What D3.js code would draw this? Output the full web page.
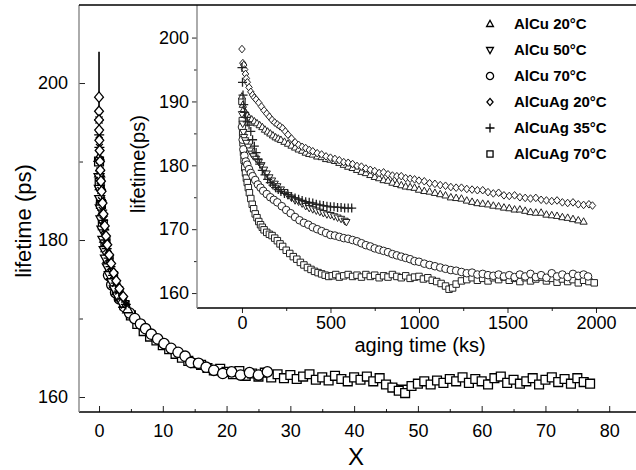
<!DOCTYPE html>
<html><head><meta charset="utf-8">
<script src="https://cdn.jsdelivr.net/npm/d3@7"></script>
<style>html,body{margin:0;padding:0;background:#fff;}svg{display:block;font-family:"Liberation Sans",Arial,sans-serif;}</style>
</head><body>
<script>
// ---------- DATA ----------
// Main plot (scaled variable X vs lifetime in ps)
const mainXTicks = [0,10,20,30,40,50,60,70,80];
const mainYTicks = [160,180,200];
const mainAlCu20 = [[0,190.5],[0.1,188.5],[0.2,186.9],[0.35,185.2],[0.5,183.5],[0.7,181.8],[0.9,180.2],[1.1,179],[1.4,177.6],[1.7,176.4],[2,175.4],[2.4,174.4],[2.8,173.5],[3.3,172.7],[3.9,171.9],[4.5,171.2]];
const mainAlCu50 = [[0,188],[0.05,186.5],[0.1,185.2],[0.2,184],[0.3,182.6],[0.45,181.3],[0.6,180],[0.8,178.7],[1,177.6],[1.3,176.5],[1.6,175.5],[2,174.6],[2.4,173.7],[2.9,172.8],[3.5,172]];
const mainAlCu70 = [[1.5,175.5],[2,174.3],[2.6,173.3],[3.2,172.5],[4,171.5],[4.8,170.7],[5.6,170],[6.5,169.3],[7.3,168.7],[8.2,168],[9.2,167.4],[10.2,166.8],[11.3,166.2],[12.4,165.7],[13.5,165.2],[14.4,164.4],[15.6,164.3],[16.8,163.8],[18,163.4],[19.4,163],[20.8,163.2],[22.2,162.8],[23.6,163.1],[25,162.8],[26.4,163.2]];
const mainAgCu20 = [[0,198.2],[0,196.4],[0,195.3],[0.02,194],[0.05,192.7],[0.1,191.4],[0.15,190],[0.2,188.9],[0.3,187.5],[0.4,186.2],[0.55,184.7],[0.7,183.3],[0.9,181.8],[1.1,180.5],[1.3,179.4],[1.6,178.1],[1.9,177],[2.3,175.8],[2.7,174.8],[3.2,173.8],[3.8,172.8]];
const mainAgCu35 = [[0,195.3],[0.03,193.4],[0.06,191.8],[0.1,190.2],[0.15,188.8],[0.2,187.6],[0.3,186.3],[0.4,185],[0.5,183.8],[0.65,182.5],[0.8,181.3],[1,180],[1.2,178.9],[1.5,177.7],[1.8,176.6],[2.2,175.5],[2.6,174.5],[3.1,173.5],[3.6,172.6],[4.2,171.8]];
const mainAgCu70 = [[0,190],[0.1,187.3],[0.3,184.6],[0.6,182],[1,179.8],[1.5,177.6],[2.2,175.4],[3,173.5],[4,171.7],[5,170.4],[6,169.3],[7,168.4],[8,167.7],[9,167.2],[10,166.6],[11,166.1],[12,165.5],[13,165],[14,164.6],[15,164.3],[16,164.1],[17,163.7],[18,163.4],[19,163.6],[20,163.2],[21,162.9],[22,163.3],[23,162.7],[24,163],[25,162.6],[26,163.1],[27,162.5],[28,162.9],[29,162.4],[30,162.8],[31,162.3],[32,162.6],[33,162.9],[34,162.2],[35,162.5],[36,162.1],[37,162.7],[38,162.3],[39,162],[40,162.5],[41,162.2],[42,162.6],[43,162],[44,162.4],[45,161.6],[46,161.2],[47,160.8],[48,160.5],[49,161.4],[50,161.7],[51,162],[52,161.6],[53,162.1],[54,161.8],[55,162.3],[56,162],[57,162.5],[58,161.8],[59,162.3],[60,162],[61,161.6],[62,162.4],[63,162.6],[64,161.8],[65,162.2],[66,161.7],[67,162],[68,162.4],[69,161.6],[70,162.2],[71,162.5],[72,161.9],[73,162.3],[74,161.7],[75,162.4],[76,161.9],[77,161.7]];
const mainFit = [[0,204],[0,196],[0.05,192],[0.15,188.5],[0.3,185.5],[0.5,183],[0.8,180.6],[1.2,178.4],[1.7,176.4],[2.3,174.7],[3,173.2],[4,171.6],[5,170.3],[6.5,168.9],[8,167.8],[10,166.5],[12,165.5],[14,164.7],[16,164.1],[18,163.7],[20,163.4],[24,163],[28,162.8],[32,162.6],[36,162.4],[40,162.3],[43,162.2],[45,161.9],[47,161.5],[48.5,161.5],[50,161.8],[53,162.1],[56,162.2],[60,162.2],[65,162.1],[70,162.1],[75,162],[77,162]];

// Inset (aging time in ks vs lifetime in ps)
const insetXTicks = [0,500,1000,1500,2000];
const insetYTicks = [160,170,180,190,200];
const legendLabels = ["AlCu 20°C","AlCu 50°C","AlCu 70°C","AlCuAg 20°C","AlCuAg 35°C","AlCuAg 70°C"];
const insAlCu20 = [[0,190.8],[5,189.5],[10,188.8],[20,188.2],[30,187.8],[40,187.5],[55,187.2],[70,186.9],[85,186.6],[100,186.3],[115,186],[130,185.6],[145,185.3],[160,185],[175,184.7],[190,184.4],[205,184.2],[220,184],[240,183.7],[260,183.4],[280,183.1],[300,182.8],[320,182.5],[340,182.3],[360,182],[380,181.8],[400,181.7],[425,181.4],[450,181.3],[475,181],[500,180.9],[525,180.7],[550,180.4],[575,180.1],[600,179.8],[625,179.6],[650,179.3],[675,179],[700,178.8],[725,178.5],[750,178.2],[775,178],[800,177.7],[825,177.6],[850,177.3],[875,177.1],[900,176.9],[925,176.7],[950,176.6],[975,176.5],[1000,176.2],[1030,176],[1060,175.9],[1090,175.7],[1120,175.5],[1150,175.3],[1180,175],[1210,174.9],[1240,174.8],[1270,174.5],[1300,174.3],[1330,174.1],[1360,174],[1390,173.9],[1420,173.7],[1450,173.6],[1480,173.4],[1510,173.3],[1540,173.1],[1570,173.1],[1600,172.9],[1630,172.7],[1660,172.6],[1690,172.6],[1720,172.3],[1750,172.2],[1780,172.1],[1810,171.9],[1840,171.8],[1870,171.6],[1900,171.4],[1930,171.2]];
const insAlCu50 = [[0,188],[4,186.5],[8,185.2],[12,184.4],[18,183.9],[25,183.5],[35,182.9],[45,182.3],[55,181.8],[65,181.4],[80,181],[95,180.5],[110,180],[125,179.3],[140,178.7],[155,178.1],[170,177.6],[185,177.1],[200,176.7],[220,176.2],[240,175.8],[260,175.3],[280,174.9],[300,174.5],[320,174.3],[340,174],[360,173.6],[380,173.3],[400,173.1],[420,172.9],[440,172.7],[460,172.5],[480,172.3],[500,172.2],[520,172],[540,171.8],[560,171.6],[580,171.3],[590,171.1]];
const insAlCu70 = [[0,186],[4,184],[8,182.5],[14,181.5],[22,180.6],[30,180.1],[40,179.4],[50,178.8],[60,178.3],[75,177.7],[90,177],[105,176.5],[120,176],[140,175.5],[160,175],[180,174.6],[200,174.2],[225,173.6],[250,173],[275,172.5],[300,171.9],[325,171.4],[350,171],[375,170.7],[400,170.3],[425,170],[450,169.7],[475,169.4],[500,169.1],[525,169],[550,168.8],[575,168.6],[600,168.5],[625,168.3],[650,168.1],[675,167.8],[700,167.5],[725,167.3],[750,167],[775,166.8],[800,166.6],[825,166.4],[850,166.1],[875,165.9],[900,165.7],[925,165.5],[950,165.3],[975,165],[1000,164.9],[1030,164.6],[1060,164.4],[1090,164.2],[1120,164],[1150,163.8],[1180,163.6],[1210,163.5],[1240,163.3],[1270,163.1],[1300,163.2],[1330,162.9],[1360,163],[1390,162.8],[1420,162.7],[1450,162.9],[1480,162.6],[1510,162.8],[1540,162.5],[1570,162.9],[1600,162.6],[1630,163],[1660,162.5],[1690,162.8],[1720,162.4],[1750,163.1],[1780,162.6],[1810,162.9],[1840,162.5],[1870,163],[1900,162.7],[1930,162.9],[1955,162.6]];
const insAgCu20 = [[0,198.2],[5,196],[10,195.7],[15,195],[20,194.3],[25,193.6],[30,193],[40,192.2],[50,191.5],[60,191],[70,190.6],[80,190.3],[95,189.8],[110,189.2],[125,188.6],[140,188.1],[155,187.6],[170,187.1],[185,186.7],[200,186.4],[215,186.1],[230,185.8],[245,185.3],[260,184.8],[280,184.2],[300,183.6],[320,183.2],[340,182.9],[360,182.7],[380,182.4],[400,182.2],[425,181.9],[450,181.7],[475,181.4],[500,181.2],[525,181],[550,180.8],[575,180.5],[600,180.4],[625,180.2],[650,179.9],[675,179.8],[700,179.5],[725,179.3],[750,179.1],[775,178.8],[800,178.9],[825,178.6],[850,178.4],[875,178.3],[900,178.3],[925,178],[950,177.9],[975,177.8],[1000,177.6],[1030,177.5],[1060,177.2],[1090,177.1],[1120,176.9],[1150,176.8],[1180,176.6],[1210,176.5],[1240,176.5],[1270,176.3],[1300,176.2],[1330,176.1],[1360,176.1],[1390,175.8],[1420,175.6],[1450,175.7],[1480,175.3],[1510,175.2],[1540,175.3],[1570,175],[1600,174.9],[1630,174.8],[1660,174.9],[1690,174.6],[1720,174.5],[1750,174.4],[1780,174.5],[1810,174.2],[1840,174.1],[1870,174.2],[1900,173.9],[1930,173.8],[1960,173.9],[1980,173.7]];
const insAgCu35 = [[0,195.3],[3,193],[6,191],[10,189.5],[15,188.3],[20,187.5],[30,186.8],[40,186.3],[50,185.3],[60,184],[70,183],[80,182],[90,181],[100,180.2],[115,179.2],[130,178.5],[145,177.8],[160,177.3],[175,176.9],[190,176.5],[205,176.2],[220,175.9],[240,175.6],[260,175.4],[280,175.1],[300,174.9],[320,174.7],[340,174.5],[360,174.3],[380,174.2],[400,174.1],[420,173.9],[440,173.8],[460,173.7],[480,173.6],[500,173.5],[520,173.5],[540,173.4],[560,173.4],[580,173.3],[600,173.3],[620,173.3]];
const insAgCu70 = [[0,190],[2,187],[4,185],[6,183.5],[9,182],[12,180.8],[16,179.6],[20,178.8],[25,178],[30,177.3],[36,176.5],[42,175.7],[50,174.8],[58,173.9],[66,173.2],[75,172.4],[85,171.8],[95,171.2],[105,170.7],[115,170.3],[125,169.9],[140,169.5],[155,169.2],[170,169],[185,168.6],[200,168.2],[215,167.7],[230,167.3],[250,166.7],[270,166.2],[290,165.7],[310,165.3],[330,164.8],[350,164.4],[370,164],[390,163.7],[410,163.4],[430,163.2],[450,163],[470,162.8],[490,162.6],[510,162.7],[530,162.9],[550,162.5],[575,162.7],[600,162.9],[625,162.6],[650,162.8],[675,162.5],[700,162.9],[725,162.6],[750,162.8],[775,162.4],[800,162.7],[825,162.5],[850,162.9],[875,162.6],[900,162.4],[925,162.7],[950,162.3],[975,162.5],[1000,162.6],[1025,162.2],[1050,162.4],[1075,162],[1100,161.8],[1125,161.5],[1150,161.1],[1170,160.6],[1190,160.8],[1210,161.4],[1240,161.9],[1270,162.1],[1300,162.4],[1330,162],[1360,162.3],[1390,161.9],[1420,162.4],[1450,162.1],[1480,162.5],[1510,162],[1540,162.3],[1570,161.8],[1600,162.4],[1630,161.9],[1660,162.2],[1690,162.5],[1720,161.9],[1750,162.3],[1780,161.7],[1810,162.2],[1840,161.8],[1870,162.1],[1900,161.6],[1930,162],[1960,161.8],[1990,161.6]];

// ---------- SYMBOLS ----------
function sym(type, r) {
  const p = d3.path();
  if (type === "triUp") { p.moveTo(0,-r); p.lineTo(r*0.95,r*0.7); p.lineTo(-r*0.95,r*0.7); p.closePath(); }
  else if (type === "triDown") { p.moveTo(0,r); p.lineTo(r*0.95,-r*0.7); p.lineTo(-r*0.95,-r*0.7); p.closePath(); }
  else if (type === "circle") { p.moveTo(r,0); p.arc(0,0,r,0,2*Math.PI); p.closePath(); }
  else if (type === "diamond") { p.moveTo(0,-r); p.lineTo(r*0.85,0); p.lineTo(0,r); p.lineTo(-r*0.85,0); p.closePath(); }
  else if (type === "plus") { p.moveTo(-r,0); p.lineTo(r,0); p.moveTo(0,-r); p.lineTo(0,r); }
  else if (type === "star") { p.moveTo(-r,0); p.lineTo(r,0); p.moveTo(0,-r); p.lineTo(0,r); const k=r*0.7; p.moveTo(-k,-k); p.lineTo(k,k); p.moveTo(-k,k); p.lineTo(k,-k); }
  else if (type === "square") { const s=r*0.85; p.rect(-s,-s,2*s,2*s); }
  return p.toString();
}
const types = ["triUp","triDown","circle","diamond","plus","square"];

// ---------- SVG ----------
const W = 636, H = 470;
const svg = d3.select("body").append("svg").attr("width",W).attr("height",H);

// Main scales
const M = {l:79, r:636, t:5, b:412};
const xM = d3.scaleLinear().domain([-3.14, 84.2]).range([M.l, M.r]);
const yM = d3.scaleLinear().domain([158.09, 209.94]).range([M.b, M.t]);

svg.append("clipPath").attr("id","clipM").append("rect").attr("x",M.l).attr("y",M.t).attr("width",M.r-M.l).attr("height",M.b-M.t);

// main axes
const gxM = svg.append("g").attr("transform",`translate(0,${M.b})`)
  .call(d3.axisBottom(xM).tickValues(mainXTicks).tickSize(-6).tickPadding(12).tickFormat(d3.format("d")));
gxM.append("g").call(d3.axisBottom(xM).tickValues(d3.range(5,85,10)).tickSize(-3).tickFormat(""));
const gyM = svg.append("g").attr("transform",`translate(${M.l},0)`)
  .call(d3.axisLeft(yM).tickValues(mainYTicks).tickSize(-6).tickPadding(11).tickFormat(d3.format("d")));
gyM.append("g").call(d3.axisLeft(yM).tickValues([170,190]).tickSize(-4).tickFormat(""));
[gxM, gyM].forEach(g => {
  g.selectAll(".domain").remove();
  g.selectAll("line").attr("stroke","#222").attr("stroke-width",1);
  g.selectAll("text").attr("font-size",18).attr("fill","#000").attr("font-family","Liberation Sans, Arial, sans-serif");
});
svg.append("line").attr("x1",M.l).attr("x2",M.r).attr("y1",M.b).attr("y2",M.b).attr("stroke","#000").attr("stroke-width",1.6);
svg.append("line").attr("x1",M.l).attr("x2",M.l).attr("y1",M.t).attr("y2",M.b).attr("stroke","#888").attr("stroke-width",1.4);

svg.append("text").attr("x",356).attr("y",465).attr("text-anchor","middle").attr("font-size",24).text("X");
svg.append("text").attr("transform","translate(31,221) rotate(-90)").attr("text-anchor","middle").attr("font-size",22).text("lifetime (ps)");

// main data
const gm = svg.append("g").attr("clip-path","url(#clipM)");
gm.append("path").datum(mainFit).attr("fill","none").attr("stroke","#000").attr("stroke-width",1.6)
  .attr("d", d3.line().x(d=>xM(d[0])).y(d=>yM(d[1])));
const mainSeries = [mainAlCu20, mainAlCu50, mainAlCu70, mainAgCu20, mainAgCu35, mainAgCu70];
const mainTypes = ["triUp","triDown","circle","diamond","star","square"];
[5,2,0,1,4,3].forEach(i => {
  gm.append("g").selectAll("path").data(mainSeries[i]).join("path")
    .attr("transform", d => `translate(${xM(d[0])},${yM(d[1])})`)
    .attr("d", sym(mainTypes[i], mainTypes[i]==="star"?5:5.2))
    .attr("fill", mainTypes[i]==="star" ? "none" : "#fff")
    .attr("stroke","#000").attr("stroke-width",1.3);
});

// Inset
const I = {l:197, r:636, t:5, b:308};
const xI = d3.scaleLinear().domain([-254, 2226]).range([I.l, I.r]);
const yI = d3.scaleLinear().domain([157.66, 205.1]).range([I.b, I.t]);
svg.append("rect").attr("x",I.l).attr("y",I.t).attr("width",I.r-I.l).attr("height",I.b-I.t).attr("fill","#fff");

const gxI = svg.append("g").attr("transform",`translate(0,${I.b})`)
  .call(d3.axisBottom(xI).tickValues(insetXTicks).tickSize(5).tickPadding(3).tickFormat(d3.format("d")));
gxI.append("g").call(d3.axisBottom(xI).tickValues([250,750,1250,1750]).tickSize(3).tickFormat(""));
const gyI = svg.append("g").attr("transform",`translate(${I.l},0)`)
  .call(d3.axisLeft(yI).tickValues(insetYTicks).tickSize(5).tickPadding(3).tickFormat(d3.format("d")));
gyI.append("g").call(d3.axisLeft(yI).tickValues([165,175,185,195]).tickSize(3).tickFormat(""));
[gxI, gyI].forEach(g => {
  g.selectAll(".domain").remove();
  g.selectAll("line").attr("stroke","#222").attr("stroke-width",1);
  g.selectAll("text").attr("font-size",18).attr("fill","#000").attr("font-family","Liberation Sans, Arial, sans-serif");
});
svg.append("line").attr("x1",I.l).attr("x2",I.r).attr("y1",I.b).attr("y2",I.b).attr("stroke","#000").attr("stroke-width",1.6);
svg.append("line").attr("x1",I.l).attr("x2",I.l).attr("y1",I.t).attr("y2",I.b).attr("stroke","#888").attr("stroke-width",1.4);

svg.append("text").attr("x",420).attr("y",352).attr("text-anchor","middle").attr("font-size",20).text("aging time (ks)");
svg.append("text").attr("transform","translate(145,164) rotate(-90)").attr("text-anchor","middle").attr("font-size",20).text("lifetime(ps)");

const insetSeries = [insAlCu20, insAlCu50, insAlCu70, insAgCu20, insAgCu35, insAgCu70];
const gi = svg.append("g");
[5,2,0,3,1,4].forEach(i => {
  gi.append("g").selectAll("path").data(insetSeries[i]).join("path")
    .attr("transform", d => `translate(${xI(d[0])},${yI(d[1])})`)
    .attr("d", sym(types[i], types[i]==="plus"?4.5:3.8))
    .attr("fill", types[i]==="plus" ? "none" : "#fff")
    .attr("stroke", "#222").attr("stroke-width", types[i]==="plus"?1.3:1);
});

// Legend
const lg = svg.append("g");
legendLabels.forEach((lab,i) => {
  const y = 24 + i*26;
  lg.append("path").attr("transform",`translate(490,${y})`).attr("d", sym(types[i], types[i]==="plus"?4.5:3.6))
    .attr("fill", "none").attr("stroke","#000").attr("stroke-width",1.3);
  lg.append("text").attr("x",514).attr("y",y+5).attr("font-size",15).attr("font-weight","bold").text(lab);
});

// top border
svg.append("line").attr("x1",M.l).attr("x2",M.r).attr("y1",M.t).attr("y2",M.t).attr("stroke","#000").attr("stroke-width",1.6);
</script>
</body></html>
